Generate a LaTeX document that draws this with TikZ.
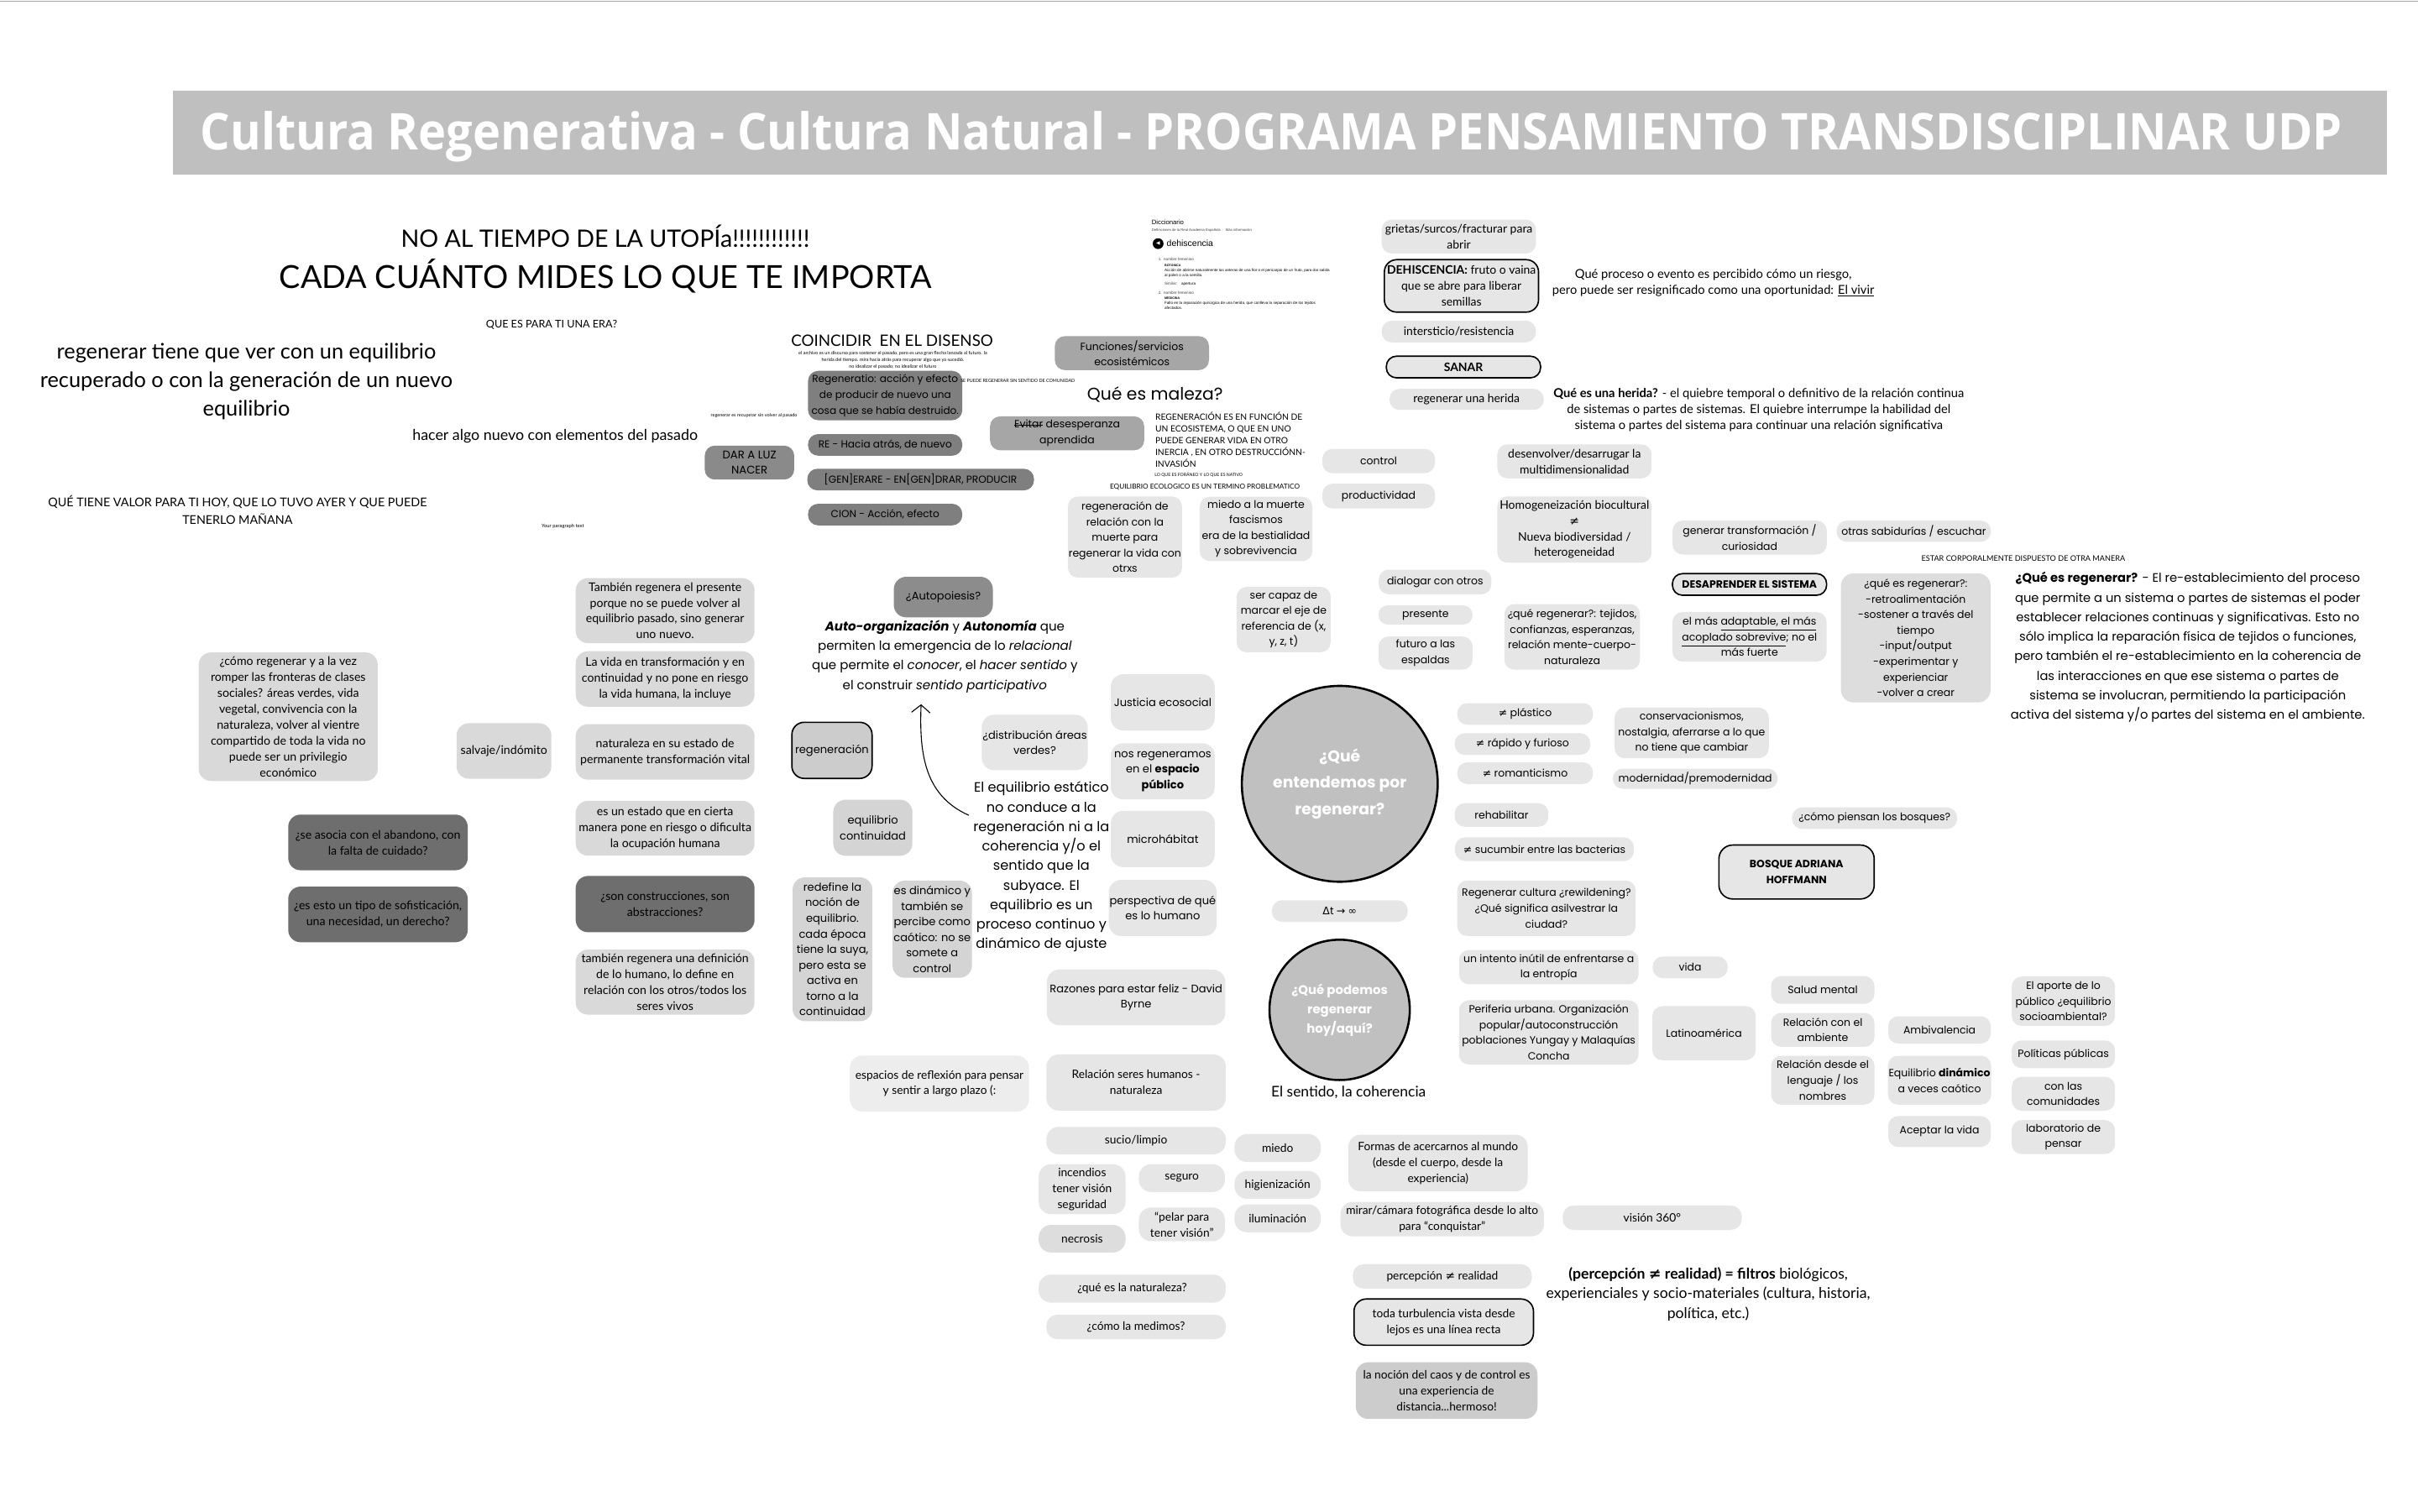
\documentclass[tikz,border=0pt]{standalone}
\usepackage{fontspec}
\setmainfont{Lato}
\newfontfamily\pop{Poppins}
\newfontfamily\opn{Open Sans}
\newfontfamily\lib{Liberation Sans}
\newfontfamily\dvs{DejaVu Sans}
\usepackage{graphicx}
\usetikzlibrary{arrows.meta}
\definecolor{gL}{HTML}{E6E6E6}
\definecolor{gM}{HTML}{D9D9D9}
\definecolor{gD}{HTML}{6E6E6E}
\definecolor{gR}{HTML}{7F7F7F}
\definecolor{gRb}{HTML}{8A8A8A}
\definecolor{gF}{HTML}{A6A6A6}
\definecolor{gA}{HTML}{8C8C8C}
\definecolor{gC}{HTML}{C0C0C0}
\definecolor{gE}{HTML}{D4D4D4}
\definecolor{gT}{HTML}{BFBFBF}
\definecolor{gX}{HTML}{EDEDED}
\definecolor{gQ}{HTML}{DDDDDD}
\definecolor{gN}{HTML}{CCCCCC}
\newcommand{\neqsym}{{\dvs ≠}}
\newsavebox\strkbox
\newcommand{\strk}[1]{\sbox\strkbox{#1}\rlap{\rule[0.28em]{\wd\strkbox}{0.45pt}}\usebox\strkbox}
\begin{document}
\begin{tikzpicture}[x=1pt,y=-1pt,
  bx/.style={rounded corners=6.5pt, align=center, inner sep=0.5pt},
  sz/.style 2 args={minimum width=#1, minimum height=#2},
  pf/.style={font=\pop\fontsize{6.8}{10.1}\selectfont},
  pg/.style={font=\pop\fontsize{7.1}{10.1}\selectfont},
  rf/.style={font=\pop\fontsize{6.6}{10.2}\selectfont},
  lf/.style={font=\fontsize{7.7}{10.3}\selectfont},
  lr/.style={font=\fontsize{7.6}{10.3}\selectfont},
  lg/.style={font=\fontsize{7.5}{10.3}\selectfont},
  bdr/.style={draw=black, line width=0.9pt},
  tx/.style={inner sep=0, align=center},
  dl/.style={inner sep=0, anchor=west, text=black!75, font=\lib\fontsize{2.5}{3}\selectfont},
  cir/.style={circle, draw=black, line width=1.4pt, fill=gC, inner sep=0, align=center, text=white}
]
\useasboundingbox (0,0) rectangle (1568,980);
\fill[white] (0,0) rectangle (1568,980);
\draw[black!35, line width=1pt] (0,0.8) -- (1568,0.8);

% title
\node[fill=gT, minimum width=1436, minimum height=54, inner sep=0] (bar) at (830,86) {};
\node[inner sep=0, anchor=base, text=white, font=\opn\bfseries] (ttl) at (824.5,97) {\resizebox{1389pt}{25pt}{Cultura Regenerativa - Cultura Natural - PROGRAMA PENSAMIENTO TRANSDISCIPLINAR UDP}};

% top-left texts
\node[tx] (t1) at (392.5,153) {\resizebox{265pt}{!}{NO AL TIEMPO DE LA UTOPÍa!!!!!!!!!!!!}};
\node[tx] (t2) at (392.7,179) {\resizebox{423pt}{!}{CADA CUÁNTO MIDES LO QUE TE IMPORTA}};
\node[tx] (t3) at (357.7,210.5) {\resizebox{85pt}{!}{QUE ES PARA TI UNA ERA?}};
\node[tx, font=\fontsize{13.8}{18.6}\selectfont] (t4) at (159.8,247.3) {regenerar tiene que ver con un equilibrio\\recuperado o con la generación de un nuevo\\equilibrio};
\node[tx] (t5) at (360,282.7) {\resizebox{185pt}{!}{hacer algo nuevo con elementos del pasado}};
\node[tx, font=\fontsize{7.8}{11.7}\selectfont] (t6) at (154,330.7) {QUÉ TIENE VALOR PARA TI HOY, QUE LO TUVO AYER Y QUE PUEDE\\TENERLO MAÑANA};
\node[tx] (t7) at (365,341.2) {\resizebox{27.5pt}{!}{Your paragraph text}};
\node[tx] (t8) at (489,269.5) {\resizebox{56pt}{!}{regenerar es recuperar sin volver al pasado}};

% coincidir
\node[tx] (c1) at (578.5,221) {\resizebox{131pt}{!}{COINCIDIR\ \ EN EL DISENSO}};
\node[tx, font=\fontsize{3}{4.4}\selectfont] (c2) at (579,233.4) {el archivo es un discurso para sostener el pasado, pero es una gran flecha lanzada al futuro. la\\herida del tiempo. mira hacia atrás para recuperar algo que ya sucedió.\\no idealizar el pasado; no idealizar el futuro};
\node[bx, rf, fill=gR, sz={100}{32}] (r1) at (574,256.5) {Regeneratio: acción y efecto\\de producir de nuevo una\\cosa que se había destruido.};
\node[bx, rf, fill=gR, sz={100}{14}] (r2) at (574,288.5) {RE - Hacia atrás, de nuevo};
\node[bx, font=\pop\fontsize{7.2}{10}\selectfont, fill=gRb, sz={58}{22}] (r3) at (486,300) {DAR A LUZ\\NACER};
\node[bx, rf, fill=gR, sz={147}{14}] (r4) at (597,311) {[GEN]ERARE - EN[GEN]DRAR, PRODUCIR};
\node[bx, rf, fill=gR, sz={100}{14}] (r5) at (574,333.7) {CION - Acción, efecto};
\node[tx] (s1) at (660,247) {\resizebox{74pt}{!}{SE PUEDE REGENERAR SIN SENTIDO DE COMUNIDAD}};

% maleza
\node[bx, pf, fill=gF, sz={100}{22}] (f1) at (734,229) {Funciones/servicios\\ecosistémicos};
\node[bx, pf, fill=gF, sz={100}{22}] (f2) at (692,281) {\strk{Evitar} desesperanza\\aprendida};
\node[tx, font=\pop] (m1) at (749,256) {\resizebox{88pt}{!}{Qué es maleza?}};
\node[inner sep=0, align=left, anchor=west, font=\fontsize{5.6}{7.7}\selectfont] (m2) at (749,285.1) {REGENERACIÓN ES EN FUNCIÓN DE\\UN ECOSISTEMA, O QUE EN UNO\\PUEDE GENERAR VIDA EN OTRO\\INERCIA , EN OTRO DESTRUCCIÓNN-\\INVASIÓN};
\node[inner sep=0, anchor=west] (m3) at (748.6,308) {\resizebox{57pt}{!}{LO QUE ES FORÁNEO Y LO QUE ES NATIVO}};
\node[tx] (m4) at (781.3,315.8) {\resizebox{123pt}{!}{EQUILIBRIO ECOLOGICO ES UN TERMINO PROBLEMATICO}};

% diccionario
\node[inner sep=0, anchor=west, font=\lib\fontsize{4.2}{5}\selectfont] (d1) at (746.7,144) {Diccionario};
\node[dl, font=\lib\fontsize{2.3}{3}\selectfont] (d2) at (746.7,149.4) {Definiciones de la Real Academia Española\ \ ·\ \ Más información};
\node[circle, fill=black, minimum size=7, inner sep=0, text=white, font=\dvs\fontsize{3.2}{3.5}\selectfont] (ico) at (751,158) {◀};
\node[inner sep=0, anchor=west, font=\lib\fontsize{5.7}{6}\selectfont] (d4) at (756.4,158) {dehiscencia};
\node[dl] (d5) at (751,168.2) {1.\ \ nombre femenino};
\node[dl, text=black, font=\lib\bfseries\fontsize{2}{3}\selectfont] (d6) at (755,172) {BOTÁNICA};
\node[dl, text=black] (d7) at (755,175.3) {Acción de abrirse naturalmente las anteras de una flor o el pericarpio de un fruto, para dar salida};
\node[dl, text=black] (d8) at (755,178.8) {al polen o a la semilla.};
\node[dl] (d9) at (755,184) {Similar:\quad \textcolor{black}{apertura}};
\node[dl] (d10) at (751,189.7) {2.\ \ nombre femenino};
\node[dl, text=black, font=\lib\bfseries\fontsize{2}{3}\selectfont] (d11) at (755,193.5) {MEDICINA};
\node[dl, text=black] (d12) at (755,196.7) {Fallo en la reparación quirúrgica de una herida, que conlleva la separación de los tejidos};
\node[dl, text=black] (d13) at (755,200) {afectados.};

% dehiscencia column
\node[bx, lr, fill=gL, sz={100}{22}] (n1) at (946,153.4) {grietas/surcos/fracturar para\\abrir};
\node[bx, lr, bdr, fill=gL, sz={100}{34}, rounded corners=8pt] (n2) at (947.7,185.4) {\textbf{DEHISCENCIA:} fruto o vaina\\que se abre para liberar\\semillas};
\node[bx, lr, fill=gL, sz={100}{14}] (n3) at (946,215) {intersticio/resistencia};
\node[bx, lr, bdr, fill=gL, sz={100}{14}] (n4) at (949,238) {\textbf{SANAR}};
\node[bx, lr, fill=gL, sz={100}{13.6}] (n5) at (951,259) {regenerar una herida};
\node[tx, font=\fontsize{8}{10}\selectfont] (q1) at (1111,183.7) {Qué proceso o evento es percibido cómo un riesgo,\\pero puede ser resignificado como una oportunidad: \underline{El vivir}};
\node[tx, font=\fontsize{8}{10.2}\selectfont] (h1) at (1140.5,265.8) {\textbf{Qué es una herida?} - el quiebre temporal o definitivo de la relación continua\\de sistemas o partes de sistemas. El quiebre interrumpe la habilidad del\\sistema o partes del sistema para continuar una relación significativa};

\node[bx, pf, fill=gL, sz={73}{15.7}] (p1) at (894,299) {control};
\node[bx, pf, fill=gL, sz={73}{16}] (p2) at (894,321.7) {productividad};
\node[bx, lr, fill=gL, sz={100}{22}] (n6) at (1021,299.2) {desenvolver/desarrugar la\\multidimensionalidad};
\node[bx, lr, fill=gL, sz={100}{43}] (n7) at (1021,343.4) {Homogeneización biocultural\\\neqsym\\Nueva biodiversidad /\\heterogeneidad};
\node[bx, pf, fill=gL, sz={100}{22}] (p3) at (1134.6,348.6) {generar transformación /\\curiosidad};
\node[bx, pf, fill=gL, sz={100}{13.7}] (p4) at (1241,344.5) {otras sabidurías / escuchar};
\node[tx] (e1) at (1312,362) {\resizebox{132pt}{!}{ESTAR CORPORALMENTE DISPUESTO DE OTRA MANERA}};

\node[bx, pf, fill=gL, sz={73}{41.7}] (p5) at (814.5,343) {miedo a la muerte\\fascismos\\era de la bestialidad\\y sobrevivencia};
\node[bx, pf, fill=gL, sz={73}{52.6}] (p6) at (729.5,348.3) {regeneración de\\relación con la\\muerte para\\regenerar la vida con\\otrxs};
\node[bx, pf, fill=gL, sz={61}{42.4}] (p7) at (832.4,401.8) {ser capaz de\\marcar el eje de\\referencia de (x,\\y, z, t)};
\node[bx, pf, fill=gL, sz={73}{16}] (p8) at (930.6,377.4) {dialogar con otros};
\node[bx, pf, fill=gL, sz={61}{12.4}, rounded corners=6pt] (p9) at (924.4,398.8) {presente};
\node[bx, pf, fill=gL, sz={61}{21.4}] (p10) at (924.4,423.5) {futuro a las\\espaldas};
\node[bx, pf, fill=gL, sz={88}{42.5}] (p11) at (1019.5,413) {¿qué regenerar?: tejidos,\\confianzas, esperanzas,\\relación mente-cuerpo-\\naturaleza};
\node[bx, pf, bdr, fill=gL, sz={100}{14}] (p12) at (1134.5,379) {\textbf{DESAPRENDER EL SISTEMA}};
\node[bx, pf, fill=gL, sz={100}{32}] (p13) at (1134.5,413) {el más \underline{adaptable, el más}\\\underline{acoplado sobrevive}; no el\\más fuerte};
\node[bx, pf, fill=gQ, sz={97}{83.6}, inner sep=0, rounded corners=8pt] (p14) at (1242.3,413.7) {¿qué es regenerar?:\\-retroalimentación\\-sostener a través del\\tiempo\\-input/output\\-experimentar y\\experienciar\\-volver a crear};
\node[tx, font=\pop\fontsize{8}{12.65}\selectfont] (w1) at (1418.7,419.8) {\textbf{¿Qué es regenerar?} - El re-establecimiento del proceso\\que permite a un sistema o partes de sistemas el poder\\establecer relaciones continuas y significativas. Esto no\\sólo implica la reparación física de tejidos o funciones,\\pero también el re-establecimiento en la coherencia de\\las interacciones en que ese sistema o partes de\\sistema se involucran, permitiendo la participación\\activa del sistema y/o partes del sistema en el ambiente.};

% circles
\node[cir, minimum size=127, font=\pop\bfseries\fontsize{10.2}{17}\selectfont] (C1) at (868.8,508.3) {¿Qué\\entendemos por\\regenerar?};
\node[cir, minimum size=91, font=\pop\bfseries\fontsize{8.1}{12.5}\selectfont] (C2) at (868.7,654.9) {¿Qué podemos\\regenerar\\hoy/aquí?};
\node[tx, font=\fontsize{9.5}{10}\selectfont] (B20) at (874.5,708.2) {El sentido, la coherencia};
\node[bx, pf, fill=gL, sz={88}{14}] (p22) at (868.8,590.8) {{\dvs Δ}t {\dvs →} {\dvs ∞}};

\node[bx, pf, fill=gL, sz={88}{14}] (p15) at (989,463) {\neqsym\ plástico};
\node[bx, pf, fill=gL, sz={88}{14}] (p16) at (987.3,482.5) {\neqsym\ rápido y furioso};
\node[bx, pf, fill=gL, sz={88}{14}] (p17) at (989,501.4) {\neqsym\ romanticismo};
\node[bx, pf, fill=gL, sz={100}{32.8}] (p18) at (1097,475.3) {conservacionismos,\\nostalgia, aferrarse a lo que\\no tiene que cambiar};
\node[bx, pf, fill=gL, sz={107}{13}] (p19) at (1099.3,505) {modernidad/premodernidad};
\node[bx, pf, fill=gL, sz={60.7}{15.3}] (p20) at (973.7,528.5) {rehabilitar};
\node[bx, pf, fill=gL, sz={116}{15.3}] (p21) at (1001.5,550.7) {\neqsym\ sucumbir entre las bacterias};
\node[bx, pf, fill=gL, sz={115.7}{36}] (p23) at (1002.8,589) {Regenerar cultura ¿rewildening?\\¿Qué significa asilvestrar la\\ciudad?};
\node[bx, pf, fill=gL, sz={116.4}{22.2}] (p24) at (1004.3,627.2) {un intento inútil de enfrentarse a\\la entropía};
\node[bx, pf, fill=gL, sz={116.4}{41.7}] (p25) at (1004.3,669.5) {Periferia urbana. Organización\\popular/autoconstrucción\\poblaciones Yungay y Malaquías\\Concha};
\node[bx, pf, fill=gL, sz={48.6}{14}] (p26) at (1096,627.3) {vida};
\node[bx, pf, fill=gL, sz={67}{35}] (p27) at (1105,670) {Latinoamérica};
\node[bx, pf, fill=gL, sz={67}{18}] (p28) at (1182,642) {Salud mental};
\node[bx, pf, fill=gL, sz={67}{22}] (p29) at (1182,667.9) {Relación con el\\ambiente};
\node[bx, pf, fill=gL, sz={67}{31.7}] (p30) at (1182,700.5) {Relación desde el\\lenguaje / los\\nombres};
\node[bx, pf, fill=gL, sz={66.5}{17.7}] (p31) at (1257.7,667.9) {Ambivalencia};
\node[bx, pf, fill=gL, sz={66.5}{31.7}] (p32) at (1257.7,700.5) {Equilibrio \textbf{dinámico}\\a veces caótico};
\node[bx, pf, fill=gL, sz={66.5}{20}] (p33) at (1257.7,733.8) {Aceptar la vida};
\node[bx, pf, fill=gL, sz={67}{32}] (p34) at (1338,649.3) {El aporte de lo\\público ¿equilibrio\\socioambiental?};
\node[bx, pf, fill=gL, sz={67}{18}] (p35) at (1338,683.7) {Políticas públicas};
\node[bx, pf, fill=gL, sz={67}{22}] (p36) at (1338,709.3) {con las\\comunidades};
\node[bx, pf, fill=gL, sz={67}{22}] (p37) at (1338,737.4) {laboratorio de\\pensar};
\node[bx, pf, fill=gL, sz={107}{14}] (p38) at (1215.6,530.6) {¿cómo piensan los bosques?};
\node[bx, pf, bdr, fill=gL, sz={100.7}{35}, rounded corners=9pt] (p39) at (1165,565.5) {\textbf{BOSQUE ADRIANA}\\\textbf{HOFFMANN}};

% autopoiesis cluster
\node[bx, pg, fill=gA, sz={64.2}{26.3}, rounded corners=8pt] (a1) at (611.7,387.2) {¿Autopoiesis?};
\node[tx, font=\pop\fontsize{8.2}{12.65}\selectfont] (a2) at (612.7,425.7) {\textbf{\textit{Auto-organización}} y \textbf{\textit{Autonomía}} que\\permiten la emergencia de lo \textit{relacional}\\que permite el \textit{conocer}, el \textit{hacer sentido} y\\el construir \textit{sentido participativo}};
\node[bx, pg, bdr, fill=gN, sz={52}{36.4}, rounded corners=8pt] (a3) at (539.5,486.6) {regeneración};
\node[bx, pg, fill=gL, sz={67}{36}, rounded corners=8pt] (a4) at (671,481.5) {¿distribución áreas\\verdes?};
\node[bx, pg, fill=gL, sz={67.4}{36.4}, rounded corners=8pt] (a5) at (754,455.5) {Justicia ecosocial};
\node[bx, pg, fill=gL, sz={67.4}{36.4}, rounded corners=8pt] (a6) at (754,500.2) {nos regeneramos\\en el \textbf{espacio}\\\textbf{público}};
\node[bx, pg, fill=gL, sz={67.4}{36.4}, rounded corners=8pt] (a7) at (754,544.1) {microhábitat};
\node[bx, pg, fill=gL, sz={67.4}{36.4}, rounded corners=8pt] (a8) at (754,588.8) {perspectiva de qué\\es lo humano};
\node[bx, pg, fill=gE, sz={51.3}{36.4}, rounded corners=8pt] (a9) at (566,536.8) {equilibrio\\continuidad};
\node[bx, pg, fill=gE, sz={51.7}{93.3}, rounded corners=8pt] (a10) at (539.8,615.6) {redefine la\\noción de\\equilibrio.\\cada época\\tiene la suya,\\pero esta se\\activa en\\torno a la\\continuidad};
\node[bx, pg, fill=gE, sz={51.5}{63}, rounded corners=8pt] (a11) at (604.5,602.6) {es dinámico y\\también se\\percibe como\\caótico: no se\\somete a\\control};
\node[tx, font=\pop\fontsize{8.8}{12.64}\selectfont] (a12) at (675.3,562.2) {El equilibrio estático\\no conduce a la\\regeneración ni a la\\coherencia y/o el\\sentido que la\\subyace. El\\equilibrio es un\\proceso continuo y\\dinámico de ajuste};
\node[bx, pg, fill=gL, sz={115.7}{36}, rounded corners=8pt] (a13) at (736.7,646.8) {Razones para estar feliz - David\\Byrne};
\coordinate (arS) at (628.2,528.7);
\coordinate (arE) at (597.3,456.7);
\draw[line width=0.6pt, -{Straight Barb[length=5pt,width=12pt]}] (arS) .. controls (600,516) and (596,490) .. (arE);

% left column
\node[bx, lf, fill=gM, sz={116}{42.2}, rounded corners=8pt] (L1) at (431.3,396) {También regenera el presente\\porque no se puede volver al\\equilibrio pasado, sino generar\\uno nuevo.};
\node[bx, lf, fill=gM, sz={116}{36}, rounded corners=8pt] (L2) at (431.3,440.3) {La vida en transformación y en\\continuidad y no pone en riesgo\\la vida humana, la incluye};
\node[bx, lf, fill=gM, sz={116}{36}, rounded corners=8pt] (L3) at (431.3,487.6) {naturaleza en su estado de\\permanente transformación vital};
\node[bx, lf, fill=gM, sz={116}{35.6}, rounded corners=8pt] (L4) at (431.3,537.1) {es un estado que en cierta\\manera pone en riesgo o dificulta\\la ocupación humana};
\node[bx, lf, fill=gD, sz={116}{36.5}, rounded corners=8pt] (L5) at (431.3,586.3) {¿son construcciones, son\\abstracciones?};
\node[bx, lf, fill=gM, sz={116}{42.2}, rounded corners=8pt] (L6) at (431.3,636.9) {también regenera una definición\\de lo humano, lo define en\\relación con los otros/todos los\\seres vivos};
\node[bx, lf, fill=gM, sz={61.5}{36}, rounded corners=8pt] (L7) at (326.8,487) {salvaje/indómito};
\node[bx, lf, fill=gM, sz={116.1}{83.4}, rounded corners=8pt] (L8) at (186.9,464.8) {¿cómo regenerar y a la vez\\romper las fronteras de clases\\sociales? áreas verdes, vida\\vegetal, convivencia con la\\naturaleza, volver al vientre\\compartido de toda la vida no\\puede ser un privilegio\\económico};
\node[bx, lf, fill=gD, sz={116.4}{36.1}, rounded corners=8pt] (L9) at (245.1,546.3) {¿se asocia con el abandono, con\\la falta de cuidado?};
\node[bx, lf, fill=gD, sz={116.4}{36.1}, rounded corners=8pt] (L10) at (245.1,593) {¿es esto un tipo de sofisticación,\\una necesidad, un derecho?};

% bottom
\node[bx, lg, fill=gX, sz={116.2}{36.3}, rounded corners=8pt] (B1) at (609.2,702.7) {espacios de reflexión para pensar\\y sentir a largo plazo (:};
\node[bx, lg, fill=gL, sz={116.3}{36.4}, rounded corners=8pt] (B2) at (736.7,702) {Relación seres humanos -\\naturaleza};
\node[bx, lg, fill=gL, sz={116.3}{17.8}, rounded corners=8pt] (B3) at (736.7,739.7) {sucio/limpio};
\node[bx, lg, fill=gL, sz={56.3}{32.3}, rounded corners=8pt] (B4) at (701.7,771.2) {incendios\\tener visión\\seguridad};
\node[bx, lg, fill=gL, sz={55.8}{18}, rounded corners=8pt] (B5) at (766.4,764) {seguro};
\node[bx, lg, fill=gQ, sz={56.3}{17.8}, rounded corners=8pt] (B6) at (701.7,803.3) {necrosis};
\node[bx, lg, fill=gL, sz={55.8}{21.8}, rounded corners=8pt] (B7) at (766.4,794) {“pelar para\\tener visión”};
\node[bx, lg, fill=gL, sz={55.9}{18}, rounded corners=8pt] (B8) at (828.5,744.5) {miedo};
\node[bx, lg, fill=gL, sz={55.9}{18}, rounded corners=8pt] (B9) at (828.5,768.4) {higienización};
\node[bx, lg, fill=gL, sz={55.9}{18}, rounded corners=8pt] (B10) at (828.5,790.1) {iluminación};
\node[bx, lg, fill=gL, sz={121.3}{18.1}, rounded corners=8pt] (B11) at (734.2,835.7) {¿qué es la naturaleza?};
\node[bx, lg, fill=gL, sz={116.3}{15.8}, rounded corners=7pt] (B12) at (736.7,860.5) {¿cómo la medimos?};
\node[bx, lg, fill=gL, sz={116.4}{36.7}, rounded corners=8pt] (B13) at (932.5,754.2) {Formas de acercarnos al mundo\\(desde el cuerpo, desde la\\experiencia)};
\node[bx, lg, fill=gL, sz={132}{22.3}, rounded corners=8pt] (B14) at (935.2,790.6) {mirar/cámara fotográfica desde lo alto\\para “conquistar”};
\node[bx, lg, fill=gL, sz={116.1}{15.8}, rounded corners=7pt] (B15) at (1071.4,789.7) {visión 360°};
\node[bx, lg, fill=gL, sz={116.1}{15.8}, rounded corners=7pt] (B16) at (935.3,827.8) {percepción \neqsym\ realidad};
\node[bx, lg, bdr, fill=gL, sz={116.4}{30}, rounded corners=8pt] (B17) at (936.2,857.4) {toda turbulencia vista desde\\lejos es una línea recta};
\node[bx, lg, fill=gN, sz={117.8}{36.7}, rounded corners=8pt] (B18) at (938.1,901.8) {la noción del caos y de control es\\una experiencia de\\distancia...hermoso!};
\node[tx, font=\fontsize{9.6}{12.7}\selectfont] (B19) at (1107.7,839.2) {\textbf{(percepción \neqsym\ realidad) = filtros} biológicos,\\experienciales y socio-materiales (cultura, historia,\\política, etc.)};
\end{tikzpicture}
\end{document}
